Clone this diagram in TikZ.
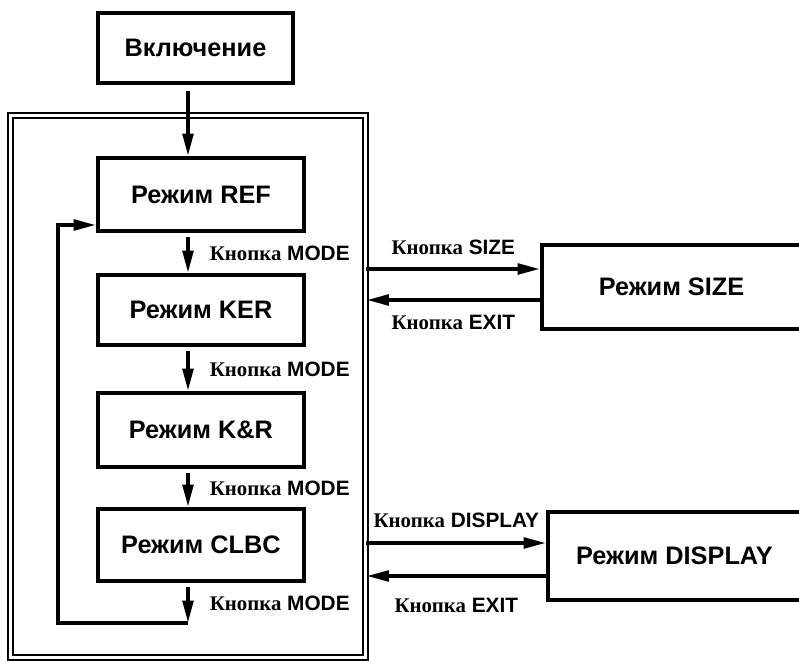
\documentclass[tikz,border=0pt]{standalone}
\usepackage{fontspec}
\setmainfont{Liberation Sans}
\newfontfamily\btnfont{Liberation Serif}
\usetikzlibrary{arrows.meta, positioning}
\tikzstyle{modebox} = [rectangle, draw, line width=2.7pt, inner sep=0pt, font=\fontsize{18}{21}\selectfont\bfseries]
\tikzstyle{flowArrow} = [line width=2.7pt, -{Triangle[length=16pt, width=7.5pt]}]
\tikzstyle{btnlabel} = [inner sep=0pt, font=\fontsize{14.8}{17}\selectfont\bfseries]
\tikzstyle{panelframe} = [rectangle, draw, double, line width=1.4pt, double distance=2.2pt]
\newcommand{\btn}[1]{{\btnfont Кнопка} #1}

\begin{document}
\begin{tikzpicture}
    \useasboundingbox (0, 0) rectangle (19.975, -16.525);

    \node[panelframe, minimum width=8.875cm, minimum height=13.55cm] at (4.7, -9.6625) (panel) {};

    \node[modebox, minimum width=4.875cm, minimum height=1.75cm] at (4.8875, -1.2) (power) {Включение};

    \node[modebox, minimum width=5.15cm, minimum height=1.825cm] at (5.025, -4.8625) (ref) {Режим REF};
    \node[modebox, minimum width=5.15cm, minimum height=1.75cm] at (5.025, -7.75) (ker) {Режим KER};
    \node[modebox, minimum width=5.15cm, minimum height=1.85cm] at (5.025, -10.75) (kr) {Режим K\&R};
    \node[modebox, minimum width=5.15cm, minimum height=1.8cm] at (5.025, -13.625) (clbc) {Режим CLBC};

    \node[modebox, minimum width=6.475cm, minimum height=2.1cm] at (16.7875, -7.175) (size) {Режим SIZE};
    \node[modebox, minimum width=6.325cm, minimum height=2.2cm] at (16.8625, -13.9) (display) {Режим DISPLAY};

    \coordinate (loopend) at (4.7, -15.575);
    \coordinate (loopleft) at (1.45, -15.575);
    \coordinate (sizeIn) at ([yshift=0.45cm]size.west);
    \coordinate (sizeOut) at ([yshift=-0.325cm]size.west);
    \coordinate (displayIn) at ([yshift=0.325cm]display.west);
    \coordinate (displayOut) at ([yshift=-0.5cm]display.west);

        \draw[flowArrow, shorten <=0.15cm] ([xshift=-0.1875cm]power.south) -- ([xshift=-0.325cm]ref.north);
        \draw[flowArrow, shorten <=0.1cm] ([xshift=-0.325cm]ref.south) -- node[btnlabel, midway, right=0.5cm] {\btn{MODE}} ([xshift=-0.325cm]ker.north);
        \draw[flowArrow, shorten <=0.1cm] ([xshift=-0.325cm]ker.south) -- node[btnlabel, midway, right=0.5cm] {\btn{MODE}} ([xshift=-0.325cm]kr.north);
        \draw[flowArrow, shorten <=0.1cm] ([xshift=-0.325cm]kr.south) -- node[btnlabel, midway, right=0.5cm] {\btn{MODE}} ([xshift=-0.325cm]clbc.north);
        \draw[flowArrow, shorten <=0.1cm] ([xshift=-0.325cm]clbc.south) -- node[btnlabel, midway, right=0.5cm] {\btn{MODE}} (loopend);
        \draw[flowArrow] (loopend) -- (loopleft) |- ([yshift=-0.7625cm]ref.west);

        \draw[flowArrow] (panel.east |- sizeIn) -- node[btnlabel, midway, above=0.3cm] {\btn{SIZE}} (sizeIn);
        \draw[flowArrow] (sizeOut) -- node[btnlabel, midway, below=0.33cm] {\btn{EXIT}} (panel.east |- sizeOut);
        \draw[flowArrow] (panel.east |- displayIn) -- node[btnlabel, midway, above=0.33cm] {\btn{DISPLAY}} (displayIn);
        \draw[flowArrow] (displayOut) -- node[btnlabel, midway, below=0.5cm] {\btn{EXIT}} (panel.east |- displayOut);
\end{tikzpicture}
\end{document}
